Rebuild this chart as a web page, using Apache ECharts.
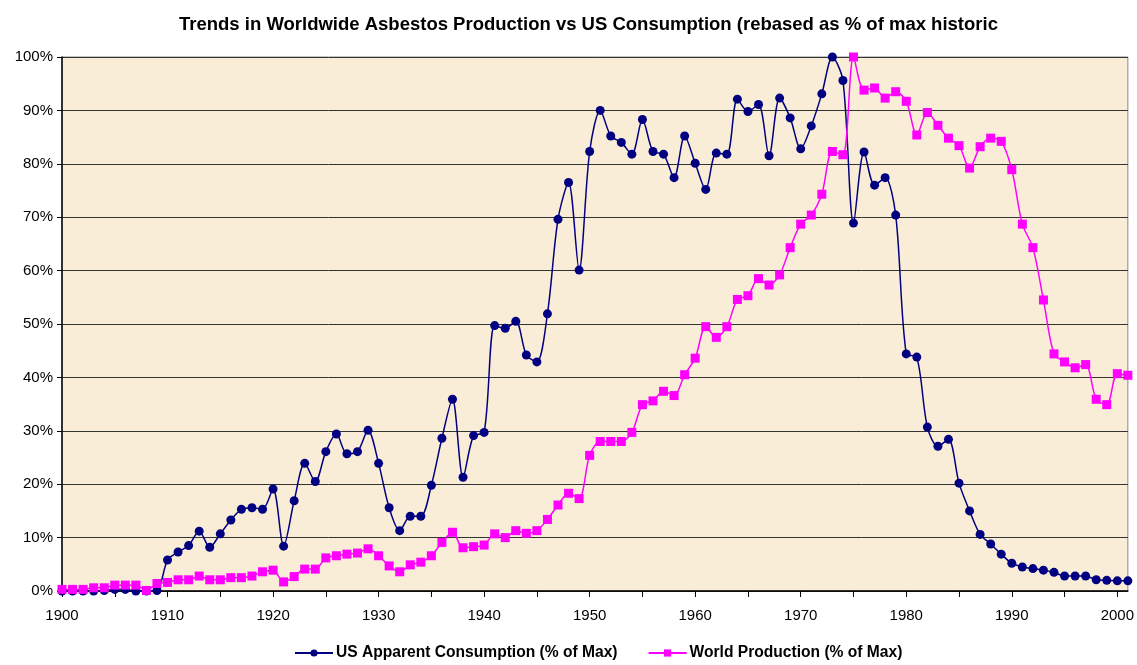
<!DOCTYPE html>
<html>
<head>
<meta charset="utf-8">
<script src="https://cdn.jsdelivr.net/npm/echarts@6/dist/echarts.min.js"></script>
<style>
  html, body { margin: 0; padding: 0; background: #fff; }
  #main { width: 1137px; height: 665px; }
</style>
</head>
<body>
<div id="main"></div>
<script>
var years = [];
for (var y = 1900; y <= 2001; y++) years.push(String(y));

// US apparent consumption, % of max (1900..2001)
var usConsumption = [
  0, 0, 0, 0, 0.1, 0.3, 0.3, 0, 0, 0.1,
  5.8, 7.3, 8.5, 11.2, 8.2, 10.7, 13.3, 15.3, 15.6, 15.3,
  19.1, 8.4, 16.9, 23.9, 20.5, 26.1, 29.4, 25.7, 26.1, 30.1,
  23.9, 15.6, 11.3, 14.0, 14.0, 19.8, 28.6, 35.9, 21.3, 29.1,
  29.7, 49.7, 49.2, 50.5, 44.2, 42.9, 51.9, 69.6, 76.5, 60.1,
  82.3, 90.0, 85.2, 84.0, 81.8, 88.3, 82.3, 81.8, 77.4, 85.2,
  80.1, 75.2, 82.0, 81.8, 92.1, 89.8, 91.1, 81.5, 92.3, 88.6,
  82.8, 87.1, 93.1, 100, 95.6, 68.9, 82.2, 76.0, 77.4, 70.4,
  44.4, 43.8, 30.7, 27.1, 28.4, 20.2, 15.0, 10.6, 8.8, 6.9,
  5.2, 4.5, 4.2, 3.9, 3.5, 2.8, 2.8, 2.8, 2.1, 2.0,
  1.9, 1.9
];

// World production, % of max (1900..2001)
var worldProduction = [
  0.3, 0.3, 0.3, 0.6, 0.6, 1.1, 1.1, 1.1, 0.1, 1.4,
  1.6, 2.1, 2.1, 2.8, 2.1, 2.1, 2.5, 2.5, 2.8, 3.6,
  3.9, 1.7, 2.7, 4.1, 4.1, 6.2, 6.6, 6.9, 7.1, 7.9,
  6.6, 4.7, 3.6, 4.9, 5.4, 6.6, 9.1, 11.0, 8.1, 8.3,
  8.6, 10.7, 10.0, 11.3, 10.8, 11.3, 13.4, 16.1, 18.3, 17.3,
  25.4, 28.0, 28.0, 28.0, 29.7, 34.9, 35.6, 37.4, 36.6, 40.5,
  43.6, 49.5, 47.5, 49.5, 54.6, 55.3, 58.5, 57.3, 59.2, 64.3,
  68.7, 70.4, 74.3, 82.3, 81.7, 100, 93.8, 94.2, 92.3, 93.5,
  91.7, 85.4, 89.6, 87.2, 84.8, 83.4, 79.2, 83.2, 84.8, 84.2,
  78.9, 68.7, 64.3, 54.5, 44.4, 42.9, 41.8, 42.4, 35.9, 34.9,
  40.7, 40.4
];

var yTicks = [0, 10, 20, 30, 40, 50, 60, 70, 80, 90, 100];

var chart = echarts.init(document.getElementById('main'), null, { renderer: 'canvas' });

var option = {
  animation: false,
  backgroundColor: '#ffffff',
  textStyle: { fontFamily: 'Liberation Sans, Arial, sans-serif', color: '#000' },
  title: {
    text: 'Trends in Worldwide Asbestos Production vs US Consumption (rebased as % of max historic',
    left: 174,
    top: 10,
    textStyle: { fontSize: 18.5, fontWeight: 'bold', color: '#000', fontFamily: 'Liberation Sans, Arial, sans-serif' }
  },
  legend: {
    top: 645,
    left: 294,
    padding: 0,
    itemGap: 30,
    itemWidth: 38,
    itemHeight: 9,
    textStyle: { fontSize: 15.6, fontWeight: 'bold', color: '#000', padding: [0, 0, 0, -2] },
    data: ['US Apparent Consumption (% of Max)', 'World Production (% of Max)']
  },
  grid: {
    left: 62,
    right: 6,
    top: 57,
    bottom: 74,
    show: true,
    backgroundColor: '#F9EDD7',
    borderColor: '#8a8a8a',
    borderWidth: 1
  },
  xAxis: {
    type: 'category',
    data: years,
    boundaryGap: false,
    axisLine: { lineStyle: { color: '#000', width: 1.5 } },
    axisTick: { interval: 4, length: 6, inside: false, lineStyle: { color: '#000' } },
    axisLabel: { interval: 9, fontSize: 15, color: '#000', margin: 17 },
    splitLine: { show: false }
  },
  yAxis: {
    type: 'value',
    min: yTicks[0],
    max: yTicks[yTicks.length - 1],
    interval: 10,
    axisLine: { show: true, lineStyle: { color: '#000', width: 1.5 } },
    axisTick: { show: true, length: 5, lineStyle: { color: '#000' } },
    axisLabel: { fontSize: 15, color: '#000', margin: 9, formatter: '{value}%' },
    splitLine: { show: true, lineStyle: { color: '#333', width: 1 } }
  },
  series: [
    {
      name: 'US Apparent Consumption (% of Max)',
      type: 'line',
      data: usConsumption,
      smooth: 0.3,
      symbol: 'circle',
      symbolSize: 9,
      showAllSymbol: true,
      itemStyle: { color: '#000080' },
      lineStyle: { color: '#000080', width: 1.5 }
    },
    {
      name: 'World Production (% of Max)',
      type: 'line',
      data: worldProduction,
      smooth: 0.3,
      symbol: 'rect',
      symbolSize: 9,
      showAllSymbol: true,
      itemStyle: { color: '#FF00FF' },
      lineStyle: { color: '#FF00FF', width: 1.5 }
    }
  ]
};

chart.setOption(option);
</script>
</body>
</html>
